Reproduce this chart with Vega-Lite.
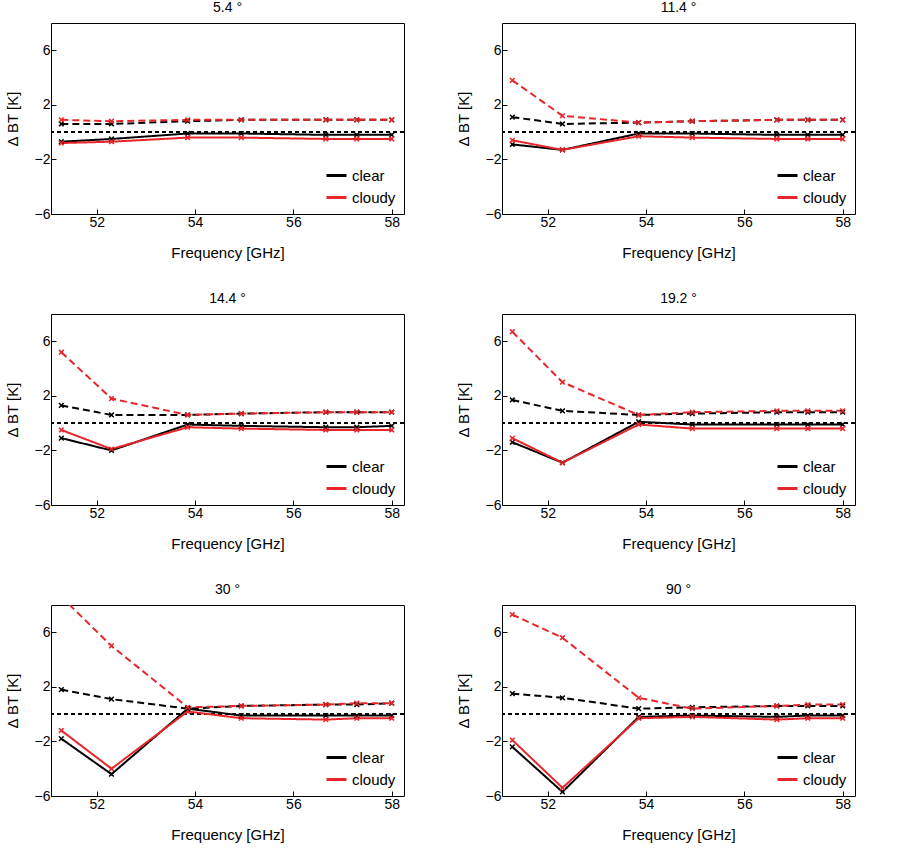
{
  "$schema": "https://vega.github.io/schema/vega-lite/v6.json",
  "padding": {"left": 4, "top": 0, "right": 5, "bottom": 0},
  "spacing": 30,
  "config": {
    "font": "Liberation Sans",
    "view": {"stroke": "black", "strokeWidth": 1},
    "axis": {"grid": false, "domain": false, "tickSize": -5, "tickColor": "black", "labelFontSize": 14, "labelColor": "black", "labelOverlap": false, "labelFlush": false, "titleFontSize": 15, "titleFontWeight": "normal", "titleColor": "black", "labelPadding": 6},
    "axisX": {"titlePadding": 16},
    "axisY": {"titlePadding": 14},
    "title": {"fontSize": 14, "fontWeight": "normal", "offset": 8},
    "concat": {"spacing": 50}
  },
  "resolve": {"legend": {"color": "independent"}},
  "data": {"values": [
    {"angle":"5.4","sky":"clear","kind":"a","freq":51.28,"dbt":-0.7},{"angle":"5.4","sky":"clear","kind":"a","freq":52.3,"dbt":-0.5},{"angle":"5.4","sky":"clear","kind":"a","freq":53.85,"dbt":-0.1},{"angle":"5.4","sky":"clear","kind":"a","freq":54.94,"dbt":-0.1},{"angle":"5.4","sky":"clear","kind":"a","freq":56.66,"dbt":-0.2},{"angle":"5.4","sky":"clear","kind":"a","freq":57.29,"dbt":-0.2},{"angle":"5.4","sky":"clear","kind":"a","freq":58.0,"dbt":-0.2},
    {"angle":"5.4","sky":"cloudy","kind":"a","freq":51.28,"dbt":-0.8},{"angle":"5.4","sky":"cloudy","kind":"a","freq":52.3,"dbt":-0.7},{"angle":"5.4","sky":"cloudy","kind":"a","freq":53.85,"dbt":-0.4},{"angle":"5.4","sky":"cloudy","kind":"a","freq":54.94,"dbt":-0.4},{"angle":"5.4","sky":"cloudy","kind":"a","freq":56.66,"dbt":-0.5},{"angle":"5.4","sky":"cloudy","kind":"a","freq":57.29,"dbt":-0.5},{"angle":"5.4","sky":"cloudy","kind":"a","freq":58.0,"dbt":-0.5},
    {"angle":"5.4","sky":"clear","kind":"b","freq":51.28,"dbt":0.6},{"angle":"5.4","sky":"clear","kind":"b","freq":52.3,"dbt":0.6},{"angle":"5.4","sky":"clear","kind":"b","freq":53.85,"dbt":0.8},{"angle":"5.4","sky":"clear","kind":"b","freq":54.94,"dbt":0.9},{"angle":"5.4","sky":"clear","kind":"b","freq":56.66,"dbt":0.9},{"angle":"5.4","sky":"clear","kind":"b","freq":57.29,"dbt":0.9},{"angle":"5.4","sky":"clear","kind":"b","freq":58.0,"dbt":0.9},
    {"angle":"5.4","sky":"cloudy","kind":"b","freq":51.28,"dbt":0.9},{"angle":"5.4","sky":"cloudy","kind":"b","freq":52.3,"dbt":0.8},{"angle":"5.4","sky":"cloudy","kind":"b","freq":53.85,"dbt":0.9},{"angle":"5.4","sky":"cloudy","kind":"b","freq":54.94,"dbt":0.9},{"angle":"5.4","sky":"cloudy","kind":"b","freq":56.66,"dbt":0.9},{"angle":"5.4","sky":"cloudy","kind":"b","freq":57.29,"dbt":0.9},{"angle":"5.4","sky":"cloudy","kind":"b","freq":58.0,"dbt":0.9},

    {"angle":"11.4","sky":"clear","kind":"a","freq":51.28,"dbt":-0.9},{"angle":"11.4","sky":"clear","kind":"a","freq":52.3,"dbt":-1.3},{"angle":"11.4","sky":"clear","kind":"a","freq":53.85,"dbt":-0.1},{"angle":"11.4","sky":"clear","kind":"a","freq":54.94,"dbt":-0.1},{"angle":"11.4","sky":"clear","kind":"a","freq":56.66,"dbt":-0.2},{"angle":"11.4","sky":"clear","kind":"a","freq":57.29,"dbt":-0.2},{"angle":"11.4","sky":"clear","kind":"a","freq":58.0,"dbt":-0.2},
    {"angle":"11.4","sky":"cloudy","kind":"a","freq":51.28,"dbt":-0.6},{"angle":"11.4","sky":"cloudy","kind":"a","freq":52.3,"dbt":-1.3},{"angle":"11.4","sky":"cloudy","kind":"a","freq":53.85,"dbt":-0.3},{"angle":"11.4","sky":"cloudy","kind":"a","freq":54.94,"dbt":-0.4},{"angle":"11.4","sky":"cloudy","kind":"a","freq":56.66,"dbt":-0.5},{"angle":"11.4","sky":"cloudy","kind":"a","freq":57.29,"dbt":-0.5},{"angle":"11.4","sky":"cloudy","kind":"a","freq":58.0,"dbt":-0.5},
    {"angle":"11.4","sky":"clear","kind":"b","freq":51.28,"dbt":1.1},{"angle":"11.4","sky":"clear","kind":"b","freq":52.3,"dbt":0.6},{"angle":"11.4","sky":"clear","kind":"b","freq":53.85,"dbt":0.7},{"angle":"11.4","sky":"clear","kind":"b","freq":54.94,"dbt":0.8},{"angle":"11.4","sky":"clear","kind":"b","freq":56.66,"dbt":0.9},{"angle":"11.4","sky":"clear","kind":"b","freq":57.29,"dbt":0.9},{"angle":"11.4","sky":"clear","kind":"b","freq":58.0,"dbt":0.9},
    {"angle":"11.4","sky":"cloudy","kind":"b","freq":51.28,"dbt":3.8},{"angle":"11.4","sky":"cloudy","kind":"b","freq":52.3,"dbt":1.2},{"angle":"11.4","sky":"cloudy","kind":"b","freq":53.85,"dbt":0.7},{"angle":"11.4","sky":"cloudy","kind":"b","freq":54.94,"dbt":0.8},{"angle":"11.4","sky":"cloudy","kind":"b","freq":56.66,"dbt":0.9},{"angle":"11.4","sky":"cloudy","kind":"b","freq":57.29,"dbt":0.9},{"angle":"11.4","sky":"cloudy","kind":"b","freq":58.0,"dbt":0.9},

    {"angle":"14.4","sky":"clear","kind":"a","freq":51.28,"dbt":-1.1},{"angle":"14.4","sky":"clear","kind":"a","freq":52.3,"dbt":-2.0},{"angle":"14.4","sky":"clear","kind":"a","freq":53.85,"dbt":-0.1},{"angle":"14.4","sky":"clear","kind":"a","freq":54.94,"dbt":-0.2},{"angle":"14.4","sky":"clear","kind":"a","freq":56.66,"dbt":-0.3},{"angle":"14.4","sky":"clear","kind":"a","freq":57.29,"dbt":-0.3},{"angle":"14.4","sky":"clear","kind":"a","freq":58.0,"dbt":-0.2},
    {"angle":"14.4","sky":"cloudy","kind":"a","freq":51.28,"dbt":-0.5},{"angle":"14.4","sky":"cloudy","kind":"a","freq":52.3,"dbt":-1.9},{"angle":"14.4","sky":"cloudy","kind":"a","freq":53.85,"dbt":-0.3},{"angle":"14.4","sky":"cloudy","kind":"a","freq":54.94,"dbt":-0.4},{"angle":"14.4","sky":"cloudy","kind":"a","freq":56.66,"dbt":-0.5},{"angle":"14.4","sky":"cloudy","kind":"a","freq":57.29,"dbt":-0.5},{"angle":"14.4","sky":"cloudy","kind":"a","freq":58.0,"dbt":-0.5},
    {"angle":"14.4","sky":"clear","kind":"b","freq":51.28,"dbt":1.3},{"angle":"14.4","sky":"clear","kind":"b","freq":52.3,"dbt":0.6},{"angle":"14.4","sky":"clear","kind":"b","freq":53.85,"dbt":0.6},{"angle":"14.4","sky":"clear","kind":"b","freq":54.94,"dbt":0.7},{"angle":"14.4","sky":"clear","kind":"b","freq":56.66,"dbt":0.8},{"angle":"14.4","sky":"clear","kind":"b","freq":57.29,"dbt":0.8},{"angle":"14.4","sky":"clear","kind":"b","freq":58.0,"dbt":0.8},
    {"angle":"14.4","sky":"cloudy","kind":"b","freq":51.28,"dbt":5.2},{"angle":"14.4","sky":"cloudy","kind":"b","freq":52.3,"dbt":1.8},{"angle":"14.4","sky":"cloudy","kind":"b","freq":53.85,"dbt":0.6},{"angle":"14.4","sky":"cloudy","kind":"b","freq":54.94,"dbt":0.7},{"angle":"14.4","sky":"cloudy","kind":"b","freq":56.66,"dbt":0.8},{"angle":"14.4","sky":"cloudy","kind":"b","freq":57.29,"dbt":0.8},{"angle":"14.4","sky":"cloudy","kind":"b","freq":58.0,"dbt":0.8},

    {"angle":"19.2","sky":"clear","kind":"a","freq":51.28,"dbt":-1.4},{"angle":"19.2","sky":"clear","kind":"a","freq":52.3,"dbt":-2.9},{"angle":"19.2","sky":"clear","kind":"a","freq":53.85,"dbt":0.1},{"angle":"19.2","sky":"clear","kind":"a","freq":54.94,"dbt":-0.1},{"angle":"19.2","sky":"clear","kind":"a","freq":56.66,"dbt":-0.1},{"angle":"19.2","sky":"clear","kind":"a","freq":57.29,"dbt":-0.1},{"angle":"19.2","sky":"clear","kind":"a","freq":58.0,"dbt":-0.1},
    {"angle":"19.2","sky":"cloudy","kind":"a","freq":51.28,"dbt":-1.1},{"angle":"19.2","sky":"cloudy","kind":"a","freq":52.3,"dbt":-2.9},{"angle":"19.2","sky":"cloudy","kind":"a","freq":53.85,"dbt":-0.1},{"angle":"19.2","sky":"cloudy","kind":"a","freq":54.94,"dbt":-0.4},{"angle":"19.2","sky":"cloudy","kind":"a","freq":56.66,"dbt":-0.4},{"angle":"19.2","sky":"cloudy","kind":"a","freq":57.29,"dbt":-0.4},{"angle":"19.2","sky":"cloudy","kind":"a","freq":58.0,"dbt":-0.4},
    {"angle":"19.2","sky":"clear","kind":"b","freq":51.28,"dbt":1.7},{"angle":"19.2","sky":"clear","kind":"b","freq":52.3,"dbt":0.9},{"angle":"19.2","sky":"clear","kind":"b","freq":53.85,"dbt":0.6},{"angle":"19.2","sky":"clear","kind":"b","freq":54.94,"dbt":0.7},{"angle":"19.2","sky":"clear","kind":"b","freq":56.66,"dbt":0.8},{"angle":"19.2","sky":"clear","kind":"b","freq":57.29,"dbt":0.8},{"angle":"19.2","sky":"clear","kind":"b","freq":58.0,"dbt":0.8},
    {"angle":"19.2","sky":"cloudy","kind":"b","freq":51.28,"dbt":6.7},{"angle":"19.2","sky":"cloudy","kind":"b","freq":52.3,"dbt":3.0},{"angle":"19.2","sky":"cloudy","kind":"b","freq":53.85,"dbt":0.6},{"angle":"19.2","sky":"cloudy","kind":"b","freq":54.94,"dbt":0.8},{"angle":"19.2","sky":"cloudy","kind":"b","freq":56.66,"dbt":0.9},{"angle":"19.2","sky":"cloudy","kind":"b","freq":57.29,"dbt":0.9},{"angle":"19.2","sky":"cloudy","kind":"b","freq":58.0,"dbt":0.9},

    {"angle":"30","sky":"clear","kind":"a","freq":51.28,"dbt":-1.8},{"angle":"30","sky":"clear","kind":"a","freq":52.3,"dbt":-4.4},{"angle":"30","sky":"clear","kind":"a","freq":53.85,"dbt":0.4},{"angle":"30","sky":"clear","kind":"a","freq":54.94,"dbt":-0.1},{"angle":"30","sky":"clear","kind":"a","freq":56.66,"dbt":-0.1},{"angle":"30","sky":"clear","kind":"a","freq":57.29,"dbt":-0.1},{"angle":"30","sky":"clear","kind":"a","freq":58.0,"dbt":-0.1},
    {"angle":"30","sky":"cloudy","kind":"a","freq":51.28,"dbt":-1.2},{"angle":"30","sky":"cloudy","kind":"a","freq":52.3,"dbt":-4.0},{"angle":"30","sky":"cloudy","kind":"a","freq":53.85,"dbt":0.2},{"angle":"30","sky":"cloudy","kind":"a","freq":54.94,"dbt":-0.3},{"angle":"30","sky":"cloudy","kind":"a","freq":56.66,"dbt":-0.4},{"angle":"30","sky":"cloudy","kind":"a","freq":57.29,"dbt":-0.3},{"angle":"30","sky":"cloudy","kind":"a","freq":58.0,"dbt":-0.3},
    {"angle":"30","sky":"clear","kind":"b","freq":51.28,"dbt":1.8},{"angle":"30","sky":"clear","kind":"b","freq":52.3,"dbt":1.1},{"angle":"30","sky":"clear","kind":"b","freq":53.85,"dbt":0.4},{"angle":"30","sky":"clear","kind":"b","freq":54.94,"dbt":0.6},{"angle":"30","sky":"clear","kind":"b","freq":56.66,"dbt":0.7},{"angle":"30","sky":"clear","kind":"b","freq":57.29,"dbt":0.7},{"angle":"30","sky":"clear","kind":"b","freq":58.0,"dbt":0.8},
    {"angle":"30","sky":"cloudy","kind":"b","freq":51.28,"dbt":8.6},{"angle":"30","sky":"cloudy","kind":"b","freq":52.3,"dbt":5.0},{"angle":"30","sky":"cloudy","kind":"b","freq":53.85,"dbt":0.5},{"angle":"30","sky":"cloudy","kind":"b","freq":54.94,"dbt":0.6},{"angle":"30","sky":"cloudy","kind":"b","freq":56.66,"dbt":0.7},{"angle":"30","sky":"cloudy","kind":"b","freq":57.29,"dbt":0.8},{"angle":"30","sky":"cloudy","kind":"b","freq":58.0,"dbt":0.8},

    {"angle":"90","sky":"clear","kind":"a","freq":51.28,"dbt":-2.4},{"angle":"90","sky":"clear","kind":"a","freq":52.3,"dbt":-5.7},{"angle":"90","sky":"clear","kind":"a","freq":53.85,"dbt":-0.2},{"angle":"90","sky":"clear","kind":"a","freq":54.94,"dbt":-0.1},{"angle":"90","sky":"clear","kind":"a","freq":56.66,"dbt":-0.2},{"angle":"90","sky":"clear","kind":"a","freq":57.29,"dbt":-0.1},{"angle":"90","sky":"clear","kind":"a","freq":58.0,"dbt":-0.1},
    {"angle":"90","sky":"cloudy","kind":"a","freq":51.28,"dbt":-1.9},{"angle":"90","sky":"cloudy","kind":"a","freq":52.3,"dbt":-5.4},{"angle":"90","sky":"cloudy","kind":"a","freq":53.85,"dbt":-0.3},{"angle":"90","sky":"cloudy","kind":"a","freq":54.94,"dbt":-0.2},{"angle":"90","sky":"cloudy","kind":"a","freq":56.66,"dbt":-0.4},{"angle":"90","sky":"cloudy","kind":"a","freq":57.29,"dbt":-0.3},{"angle":"90","sky":"cloudy","kind":"a","freq":58.0,"dbt":-0.3},
    {"angle":"90","sky":"clear","kind":"b","freq":51.28,"dbt":1.5},{"angle":"90","sky":"clear","kind":"b","freq":52.3,"dbt":1.2},{"angle":"90","sky":"clear","kind":"b","freq":53.85,"dbt":0.4},{"angle":"90","sky":"clear","kind":"b","freq":54.94,"dbt":0.5},{"angle":"90","sky":"clear","kind":"b","freq":56.66,"dbt":0.6},{"angle":"90","sky":"clear","kind":"b","freq":57.29,"dbt":0.6},{"angle":"90","sky":"clear","kind":"b","freq":58.0,"dbt":0.6},
    {"angle":"90","sky":"cloudy","kind":"b","freq":51.28,"dbt":7.3},{"angle":"90","sky":"cloudy","kind":"b","freq":52.3,"dbt":5.6},{"angle":"90","sky":"cloudy","kind":"b","freq":53.85,"dbt":1.2},{"angle":"90","sky":"cloudy","kind":"b","freq":54.94,"dbt":0.4},{"angle":"90","sky":"cloudy","kind":"b","freq":56.66,"dbt":0.6},{"angle":"90","sky":"cloudy","kind":"b","freq":57.29,"dbt":0.7},{"angle":"90","sky":"cloudy","kind":"b","freq":58.0,"dbt":0.7}
  ]},
  "vconcat": [
    {"resolve": {"legend": {"color": "independent"}}, "hconcat": [
      {"title": "5.4 °", "width": 353, "height": 191, "transform": [{"filter": "datum.angle == '5.4'"}],
       "layer": [
        {"mark": {"type": "rule", "color": "black", "strokeWidth": 0.7, "strokeDash": [4, 3]}, "encoding": {"y": {"datum": 0, "type": "quantitative"}}},
        {"mark": {"type": "line", "clip": true, "strokeWidth": 2, "point": {"shape": "M-1,-1L1,1M-1,1L1,-1", "filled": false, "size": 22, "strokeWidth": 1.5}},
         "encoding": {
          "x": {"field": "freq", "type": "quantitative", "title": "Frequency [GHz]", "scale": {"domain": [51.07, 58.25], "nice": false, "zero": false}, "axis": {"values": [52, 54, 56, 58]}},
          "y": {"field": "dbt", "type": "quantitative", "title": "Δ BT [K]", "scale": {"domain": [-6, 8], "nice": false}, "axis": {"values": [-6, -4, -2, 0, 2, 4, 6, 8]}},
          "color": {"field": "sky", "type": "nominal", "scale": {"domain": ["clear", "cloudy"], "range": ["black", "#e8262a"]}, "legend": {"title": null, "orient": "bottom-right", "symbolType": "stroke", "symbolStrokeWidth": 3, "symbolSize": 400, "labelFontSize": 15, "labelColor": "black", "rowPadding": 2, "fillColor": "white", "padding": 2, "offset": 6}},
          "strokeDash": {"field": "kind", "type": "nominal", "scale": {"domain": ["a", "b"], "range": [[1, 0], [7, 4]]}, "legend": null}
         }}
      ]},
      {"title": "11.4 °", "width": 353, "height": 191, "transform": [{"filter": "datum.angle == '11.4'"}],
       "layer": [
        {"mark": {"type": "rule", "color": "black", "strokeWidth": 0.7, "strokeDash": [4, 3]}, "encoding": {"y": {"datum": 0, "type": "quantitative"}}},
        {"mark": {"type": "line", "clip": true, "strokeWidth": 2, "point": {"shape": "M-1,-1L1,1M-1,1L1,-1", "filled": false, "size": 22, "strokeWidth": 1.5}},
         "encoding": {
          "x": {"field": "freq", "type": "quantitative", "title": "Frequency [GHz]", "scale": {"domain": [51.07, 58.25], "nice": false, "zero": false}, "axis": {"values": [52, 54, 56, 58]}},
          "y": {"field": "dbt", "type": "quantitative", "title": "Δ BT [K]", "scale": {"domain": [-6, 8], "nice": false}, "axis": {"values": [-6, -4, -2, 0, 2, 4, 6, 8]}},
          "color": {"field": "sky", "type": "nominal", "scale": {"domain": ["clear", "cloudy"], "range": ["black", "#e8262a"]}, "legend": {"title": null, "orient": "bottom-right", "symbolType": "stroke", "symbolStrokeWidth": 3, "symbolSize": 400, "labelFontSize": 15, "labelColor": "black", "rowPadding": 2, "fillColor": "white", "padding": 2, "offset": 6}},
          "strokeDash": {"field": "kind", "type": "nominal", "scale": {"domain": ["a", "b"], "range": [[1, 0], [7, 4]]}, "legend": null}
         }}
      ]}
    ]},
    {"resolve": {"legend": {"color": "independent"}}, "hconcat": [
      {"title": "14.4 °", "width": 353, "height": 191, "transform": [{"filter": "datum.angle == '14.4'"}],
       "layer": [
        {"mark": {"type": "rule", "color": "black", "strokeWidth": 0.7, "strokeDash": [4, 3]}, "encoding": {"y": {"datum": 0, "type": "quantitative"}}},
        {"mark": {"type": "line", "clip": true, "strokeWidth": 2, "point": {"shape": "M-1,-1L1,1M-1,1L1,-1", "filled": false, "size": 22, "strokeWidth": 1.5}},
         "encoding": {
          "x": {"field": "freq", "type": "quantitative", "title": "Frequency [GHz]", "scale": {"domain": [51.07, 58.25], "nice": false, "zero": false}, "axis": {"values": [52, 54, 56, 58]}},
          "y": {"field": "dbt", "type": "quantitative", "title": "Δ BT [K]", "scale": {"domain": [-6, 8], "nice": false}, "axis": {"values": [-6, -4, -2, 0, 2, 4, 6, 8]}},
          "color": {"field": "sky", "type": "nominal", "scale": {"domain": ["clear", "cloudy"], "range": ["black", "#e8262a"]}, "legend": {"title": null, "orient": "bottom-right", "symbolType": "stroke", "symbolStrokeWidth": 3, "symbolSize": 400, "labelFontSize": 15, "labelColor": "black", "rowPadding": 2, "fillColor": "white", "padding": 2, "offset": 6}},
          "strokeDash": {"field": "kind", "type": "nominal", "scale": {"domain": ["a", "b"], "range": [[1, 0], [7, 4]]}, "legend": null}
         }}
      ]},
      {"title": "19.2 °", "width": 353, "height": 191, "transform": [{"filter": "datum.angle == '19.2'"}],
       "layer": [
        {"mark": {"type": "rule", "color": "black", "strokeWidth": 0.7, "strokeDash": [4, 3]}, "encoding": {"y": {"datum": 0, "type": "quantitative"}}},
        {"mark": {"type": "line", "clip": true, "strokeWidth": 2, "point": {"shape": "M-1,-1L1,1M-1,1L1,-1", "filled": false, "size": 22, "strokeWidth": 1.5}},
         "encoding": {
          "x": {"field": "freq", "type": "quantitative", "title": "Frequency [GHz]", "scale": {"domain": [51.07, 58.25], "nice": false, "zero": false}, "axis": {"values": [52, 54, 56, 58]}},
          "y": {"field": "dbt", "type": "quantitative", "title": "Δ BT [K]", "scale": {"domain": [-6, 8], "nice": false}, "axis": {"values": [-6, -4, -2, 0, 2, 4, 6, 8]}},
          "color": {"field": "sky", "type": "nominal", "scale": {"domain": ["clear", "cloudy"], "range": ["black", "#e8262a"]}, "legend": {"title": null, "orient": "bottom-right", "symbolType": "stroke", "symbolStrokeWidth": 3, "symbolSize": 400, "labelFontSize": 15, "labelColor": "black", "rowPadding": 2, "fillColor": "white", "padding": 2, "offset": 6}},
          "strokeDash": {"field": "kind", "type": "nominal", "scale": {"domain": ["a", "b"], "range": [[1, 0], [7, 4]]}, "legend": null}
         }}
      ]}
    ]},
    {"resolve": {"legend": {"color": "independent"}}, "hconcat": [
      {"title": "30 °", "width": 353, "height": 191, "transform": [{"filter": "datum.angle == '30'"}],
       "layer": [
        {"mark": {"type": "rule", "color": "black", "strokeWidth": 0.7, "strokeDash": [4, 3]}, "encoding": {"y": {"datum": 0, "type": "quantitative"}}},
        {"mark": {"type": "line", "clip": true, "strokeWidth": 2, "point": {"shape": "M-1,-1L1,1M-1,1L1,-1", "filled": false, "size": 22, "strokeWidth": 1.5}},
         "encoding": {
          "x": {"field": "freq", "type": "quantitative", "title": "Frequency [GHz]", "scale": {"domain": [51.07, 58.25], "nice": false, "zero": false}, "axis": {"values": [52, 54, 56, 58]}},
          "y": {"field": "dbt", "type": "quantitative", "title": "Δ BT [K]", "scale": {"domain": [-6, 8], "nice": false}, "axis": {"values": [-6, -4, -2, 0, 2, 4, 6, 8]}},
          "color": {"field": "sky", "type": "nominal", "scale": {"domain": ["clear", "cloudy"], "range": ["black", "#e8262a"]}, "legend": {"title": null, "orient": "bottom-right", "symbolType": "stroke", "symbolStrokeWidth": 3, "symbolSize": 400, "labelFontSize": 15, "labelColor": "black", "rowPadding": 2, "fillColor": "white", "padding": 2, "offset": 6}},
          "strokeDash": {"field": "kind", "type": "nominal", "scale": {"domain": ["a", "b"], "range": [[1, 0], [7, 4]]}, "legend": null}
         }}
      ]},
      {"title": "90 °", "width": 353, "height": 191, "transform": [{"filter": "datum.angle == '90'"}],
       "layer": [
        {"mark": {"type": "rule", "color": "black", "strokeWidth": 0.7, "strokeDash": [4, 3]}, "encoding": {"y": {"datum": 0, "type": "quantitative"}}},
        {"mark": {"type": "line", "clip": true, "strokeWidth": 2, "point": {"shape": "M-1,-1L1,1M-1,1L1,-1", "filled": false, "size": 22, "strokeWidth": 1.5}},
         "encoding": {
          "x": {"field": "freq", "type": "quantitative", "title": "Frequency [GHz]", "scale": {"domain": [51.07, 58.25], "nice": false, "zero": false}, "axis": {"values": [52, 54, 56, 58]}},
          "y": {"field": "dbt", "type": "quantitative", "title": "Δ BT [K]", "scale": {"domain": [-6, 8], "nice": false}, "axis": {"values": [-6, -4, -2, 0, 2, 4, 6, 8]}},
          "color": {"field": "sky", "type": "nominal", "scale": {"domain": ["clear", "cloudy"], "range": ["black", "#e8262a"]}, "legend": {"title": null, "orient": "bottom-right", "symbolType": "stroke", "symbolStrokeWidth": 3, "symbolSize": 400, "labelFontSize": 15, "labelColor": "black", "rowPadding": 2, "fillColor": "white", "padding": 2, "offset": 6}},
          "strokeDash": {"field": "kind", "type": "nominal", "scale": {"domain": ["a", "b"], "range": [[1, 0], [7, 4]]}, "legend": null}
         }}
      ]}
    ]}
  ]
}
